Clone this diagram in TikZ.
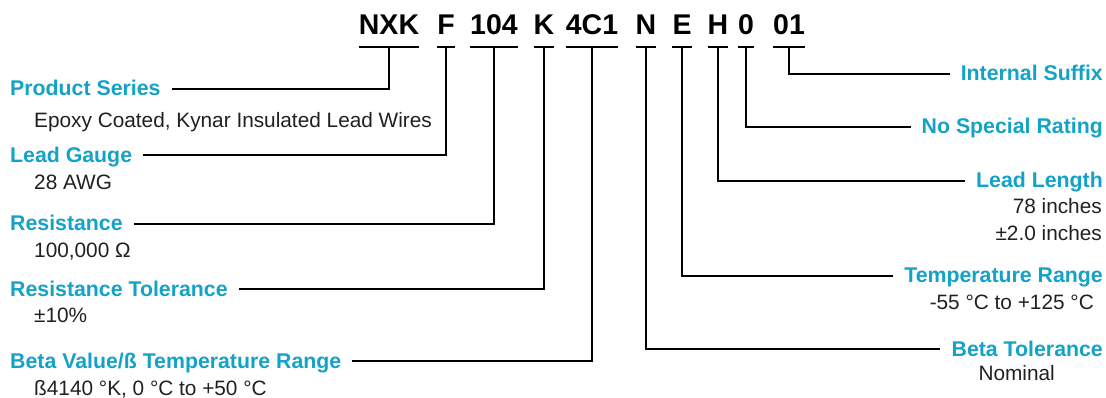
\documentclass[tikz,border=0pt]{standalone}
\usepackage{fontspec}
\setmainfont{Liberation Sans}
\usepackage{tikz}
\usetikzlibrary{calc}
\definecolor{ink}{HTML}{231F20}
\definecolor{cyan}{HTML}{14A2C7}
\tikzset{
  code/.style={text=black, font=\fontsize{28.5}{30}\selectfont\bfseries, inner sep=0pt, anchor=base},
  bar/.style={draw=black, line width=2pt},
  wire/.style={draw=black, line width=2pt},
  head/.style={text=cyan, font=\fontsize{21.3}{24}\selectfont\bfseries, inner sep=0pt, text height=14pt, text depth=0pt},
  desc/.style={text=ink, font=\fontsize{20.8}{24}\selectfont, inner sep=0pt}
}

\begin{document}
\begin{tikzpicture}[x=1pt, y=-1pt]
  \useasboundingbox (0,0) rectangle (1106,398);

  % part number, each part underlined
  \foreach \n/\t/\x in {nxk/NXK/389, f/F/446, res/104/494, tol/K/544, beta/4C1/592,
                        btol/N/646, temp/E/682, len/H/718, rat/0/746, suf/01/789} {
    \node[code] (\n) at (\x,35) {\t};
    \draw[bar] ([yshift=-12pt]\n.base west) -- ([yshift=-12pt]\n.base east);
    \coordinate (\n-b) at ([yshift=-12pt]\n.base);
  }

  % left labels
  \node[head, anchor=west] (series) at (10,89) {Product Series};
  \node[desc, anchor=base west] (series-d) at (34,127.3) {Epoxy Coated, Kynar Insulated Lead Wires};
  \node[head, anchor=west] (gauge) at (10,155.5) {Lead Gauge};
  \node[desc, anchor=base west] (gauge-d) at (34,190) {28 AWG};
  \node[head, anchor=west] (resist) at (10,224) {Resistance};
  \node[desc, anchor=base west] (resist-d) at (34,257.3) {100,000 Ω};
  \node[head, anchor=west] (rtol) at (10,289) {Resistance Tolerance};
  \node[desc, anchor=base west] (rtol-d) at (34,322.7) {±10\%};
  \node[head, anchor=west] (bval) at (10,361) {Beta Value/ß Temperature Range};
  \node[desc, anchor=base west] (bval-d) at (34,395) {ß4140 °K, 0 °C to +50 °C};

  % right labels
  \node[head, anchor=east] (suffix) at (1103,74) {Internal Suffix};
  \node[head, anchor=east] (rating) at (1103,127) {No Special Rating};
  \node[head, anchor=east] (length) at (1103,181) {Lead Length};
  \node[desc, anchor=base east] (length-d) at (1102,214) {78 inches};
  \node[desc, anchor=base east] (length-e) at (1102,241) {±2.0 inches};
  \node[head, anchor=east] (trange) at (1103,275.5) {Temperature Range};
  \node[desc, anchor=base east] (trange-d) at (1094,309.3) {-55 °C to +125 °C};
  \node[head, anchor=east] (btole) at (1103,349) {Beta Tolerance};
  \node[desc, anchor=base east] (btole-d) at (1055,380.7) {Nominal};

  % connectors
  \draw[wire] (nxk-b) |- ([xshift=11pt]series.east);
  \draw[wire] (f-b) |- ([xshift=11pt]gauge.east);
  \draw[wire] (res-b) |- ([xshift=11pt]resist.east);
  \draw[wire] (tol-b) |- ([xshift=11pt]rtol.east);
  \draw[wire] (beta-b) |- ([xshift=11pt]bval.east);
  \draw[wire] (suf-b) |- ([xshift=-11pt]suffix.west);
  \draw[wire] (rat-b) |- ([xshift=-11pt]rating.west);
  \draw[wire] (len-b) |- ([xshift=-11pt]length.west);
  \draw[wire] (temp-b) |- ([xshift=-11pt]trange.west);
  \draw[wire] (btol-b) |- ([xshift=-11pt]btole.west);
\end{tikzpicture}
\end{document}
